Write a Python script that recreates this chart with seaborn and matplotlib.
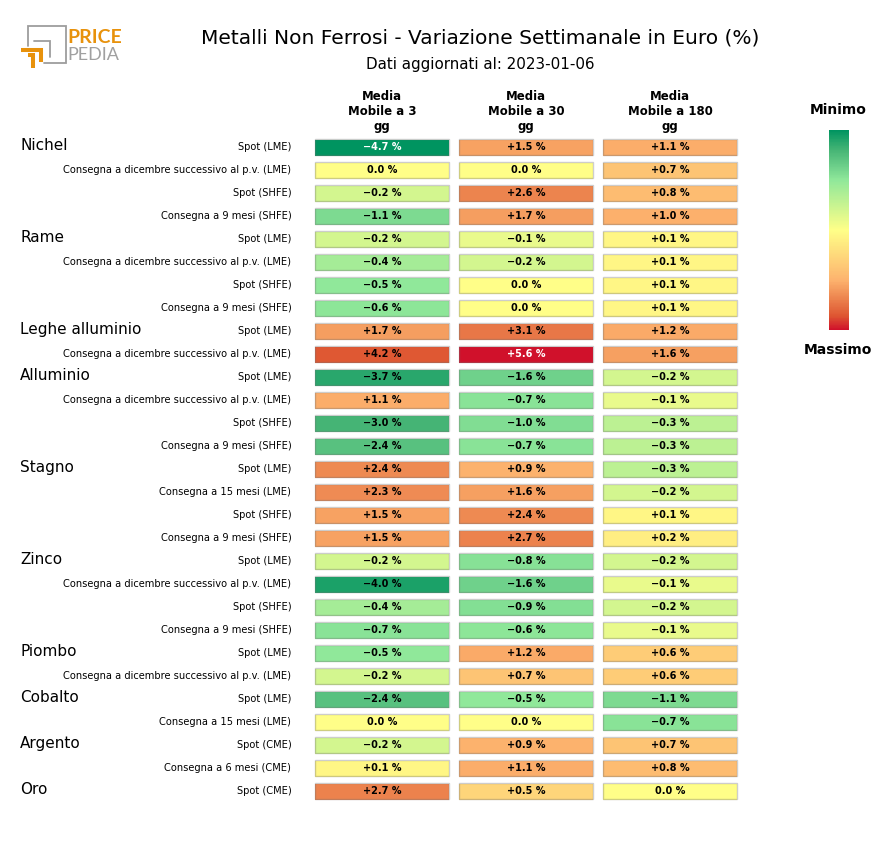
import numpy as np
import pandas as pd
import matplotlib
matplotlib.use("Agg")
import matplotlib.pyplot as plt
import matplotlib.colors as mcolors
import matplotlib.transforms as mtransforms
from matplotlib.patches import Rectangle
import seaborn as sns

# ---- data -------------------------------------------------------------
groups = ["Nichel", "Rame", "Leghe alluminio", "Alluminio", "Stagno",
          "Zinco", "Piombo", "Cobalto", "Argento", "Oro"]
group_sizes = [4, 4, 2, 4, 4, 4, 2, 2, 2, 1]

DIC = "Consegna a dicembre successivo al p.v. (LME)"
sub_labels = [
    "Spot (LME)", DIC, "Spot (SHFE)", "Consegna a 9 mesi (SHFE)",
    "Spot (LME)", DIC, "Spot (SHFE)", "Consegna a 9 mesi (SHFE)",
    "Spot (LME)", DIC,
    "Spot (LME)", DIC, "Spot (SHFE)", "Consegna a 9 mesi (SHFE)",
    "Spot (LME)", "Consegna a 15 mesi (LME)", "Spot (SHFE)", "Consegna a 9 mesi (SHFE)",
    "Spot (LME)", DIC, "Spot (SHFE)", "Consegna a 9 mesi (SHFE)",
    "Spot (LME)", DIC,
    "Spot (LME)", "Consegna a 15 mesi (LME)",
    "Spot (CME)", "Consegna a 6 mesi (CME)",
    "Spot (CME)",
]

columns = ["Media\nMobile a 3\ngg", "Media\nMobile a 30\ngg", "Media\nMobile a 180\ngg"]

mm3 = [-4.7, 0.0, -0.2, -1.1,
       -0.2, -0.4, -0.5, -0.6,
       1.7, 4.2,
       -3.7, 1.1, -3.0, -2.4,
       2.4, 2.3, 1.5, 1.5,
       -0.2, -4.0, -0.4, -0.7,
       -0.5, -0.2,
       -2.4, 0.0,
       -0.2, 0.1,
       2.7]
mm30 = [1.5, 0.0, 2.6, 1.7,
        -0.1, -0.2, 0.0, 0.0,
        3.1, 5.6,
        -1.6, -0.7, -1.0, -0.7,
        0.9, 1.6, 2.4, 2.7,
        -0.8, -1.6, -0.9, -0.6,
        1.2, 0.7,
        -0.5, 0.0,
        0.9, 1.1,
        0.5]
mm180 = [1.1, 0.7, 0.8, 1.0,
         0.1, 0.1, 0.1, 0.1,
         1.2, 1.6,
         -0.2, -0.1, -0.3, -0.3,
         -0.3, -0.2, 0.1, 0.2,
         -0.2, -0.1, -0.2, -0.1,
         0.6, 0.6,
         -1.1, -0.7,
         0.7, 0.8,
         0.0]

df = pd.DataFrame({columns[0]: mm3, columns[1]: mm30, columns[2]: mm180})
values = df.to_numpy()


def fmt_pct(v):
    if v == 0:
        return "0.0 %"
    return f"{v:+.1f} %".replace("-", "\u2212")


labels = np.vectorize(fmt_pct)(values)

# ---- colour scale -------------------------------------------------------
cmap = mcolors.LinearSegmentedColormap.from_list("pp", [
    (0.00, "#009460"), (0.10, "#46b575"), (0.18, "#6dcf8a"), (0.25, "#90e89a"),
    (0.50, "#ffff88"), (0.75, "#fdb36e"), (0.85, "#eb804c"), (0.93, "#de5632"),
    (1.00, "#d0112b"),
])
vmin, vmax = values.min(), values.max()
anchor_v = [vmin, -0.5, 0.0, 0.9, vmax]
anchor_p = [0.0, 0.25, 0.5, 0.75, 1.0]
norm = mcolors.FuncNorm((lambda x: np.interp(x, anchor_v, anchor_p),
                         lambda p: np.interp(p, anchor_p, anchor_v)),
                        vmin=vmin, vmax=vmax)

# ---- figure -------------------------------------------------------------
sns.set_style("white")
plt.rcParams.update({"text.color": "black", "xtick.color": "black",
                     "ytick.color": "black", "axes.labelcolor": "black"})
W, H = 880, 850
fig = plt.figure(figsize=(W / 100, H / 100), dpi=100)
ax = fig.add_axes([310 / W, 1 - 802.5 / H, 432 / W, 667 / H])

sns.heatmap(df, ax=ax, cmap=cmap, norm=norm, cbar=False,
            annot=labels, fmt="", annot_kws={"fontsize": 7, "fontweight": "bold"},
            yticklabels=sub_labels)

# white labels only on the two ends of the scale
for txt, v in zip(ax.texts, values.flatten()):
    p = norm(v)
    txt.set_color("white" if (p < 0.03 or p > 0.97) else "black")

# white gaps between cells and a thin outline on each cell
nrows, ncols = values.shape
for x in range(ncols + 1):
    ax.axvline(x, color="white", lw=7.2, zorder=3)
for y in range(nrows + 1):
    ax.axhline(y, color="white", lw=5.0, zorder=3)
dx, dy = 5 / 144, 3.5 / 23
for i in range(nrows):
    for j in range(ncols):
        ax.add_patch(Rectangle((j + dx, i + dy), 1 - 2 * dx, 1 - 2 * dy,
                               facecolor="none", edgecolor=(0.45, 0.45, 0.45, 0.35),
                               lw=1, zorder=4))

ax.xaxis.tick_top()
ax.set_xticklabels(columns, rotation=0, fontsize=8.5, fontweight="bold")
ax.set_yticklabels(sub_labels, rotation=0, fontsize=7.1)
ax.tick_params(axis="x", length=0, pad=2)
ax.tick_params(axis="y", length=0, pad=13.5)
ax.set_xlabel("")
ax.set_ylabel("")

# group labels on the left
trans = mtransforms.blended_transform_factory(fig.transFigure, ax.transData)
start = 0
for name, n in zip(groups, group_sizes):
    ax.text(20 / W, start + 0.42, name, transform=trans, fontsize=11,
            ha="left", va="center")
    start += n

# titles
fig.text(480 / W, 1 - 38 / H, "Metalli Non Ferrosi - Variazione Settimanale in Euro (%)",
         ha="center", va="center", fontsize=14.5)
fig.text(480 / W, 1 - 64 / H, "Dati aggiornati al: 2023-01-06",
         ha="center", va="center", fontsize=10.9)

# colour legend
cax = fig.add_axes([829 / W, 1 - 330 / H, 20 / W, 200 / H])
cb = fig.colorbar(plt.cm.ScalarMappable(norm=mcolors.Normalize(0, 1), cmap=cmap), cax=cax)
cax.invert_yaxis()
cb.set_ticks([])
cb.outline.set_visible(False)
fig.text(838 / W, 1 - 110 / H, "Minimo", ha="center", va="center",
         fontsize=10, fontweight="bold")
fig.text(838 / W, 1 - 350 / H, "Massimo", ha="center", va="center",
         fontsize=10, fontweight="bold")

# logo
lax = fig.add_axes([0, 0, 1, 1], zorder=-1)
lax.set_xlim(0, W)
lax.set_ylim(H, 0)
lax.axis("off")
grey, orange = "#9d9d9d", "#e8920c"
lax.plot([28.3, 28.3, 65.5, 65.5, 44], [46, 25.5, 25.5, 63, 63], color=grey, lw=1.3,
         solid_joinstyle="miter")
lax.plot([34, 50, 50], [41, 41, 57], color=grey, lw=1.3, solid_joinstyle="miter")
lax.plot([21, 41.3, 41.3], [49.7, 49.7, 61.7], color=orange, lw=2.9,
         solid_joinstyle="miter", solid_capstyle="butt")
lax.plot([27.7, 33, 33], [54.7, 54.7, 68.3], color=orange, lw=2.9,
         solid_joinstyle="miter", solid_capstyle="butt")
lax.text(67.5, 43, "PRICE", color=orange, fontsize=14, fontweight="bold",
         family=["Lato", "DejaVu Sans"], ha="left", va="baseline")
lax.text(67.5, 60, "PEDIA", color="#a0a0a0", fontsize=13, fontweight="normal",
         family=["Lato", "DejaVu Sans"], ha="left", va="baseline")

fig.savefig("out.png", dpi=100)
